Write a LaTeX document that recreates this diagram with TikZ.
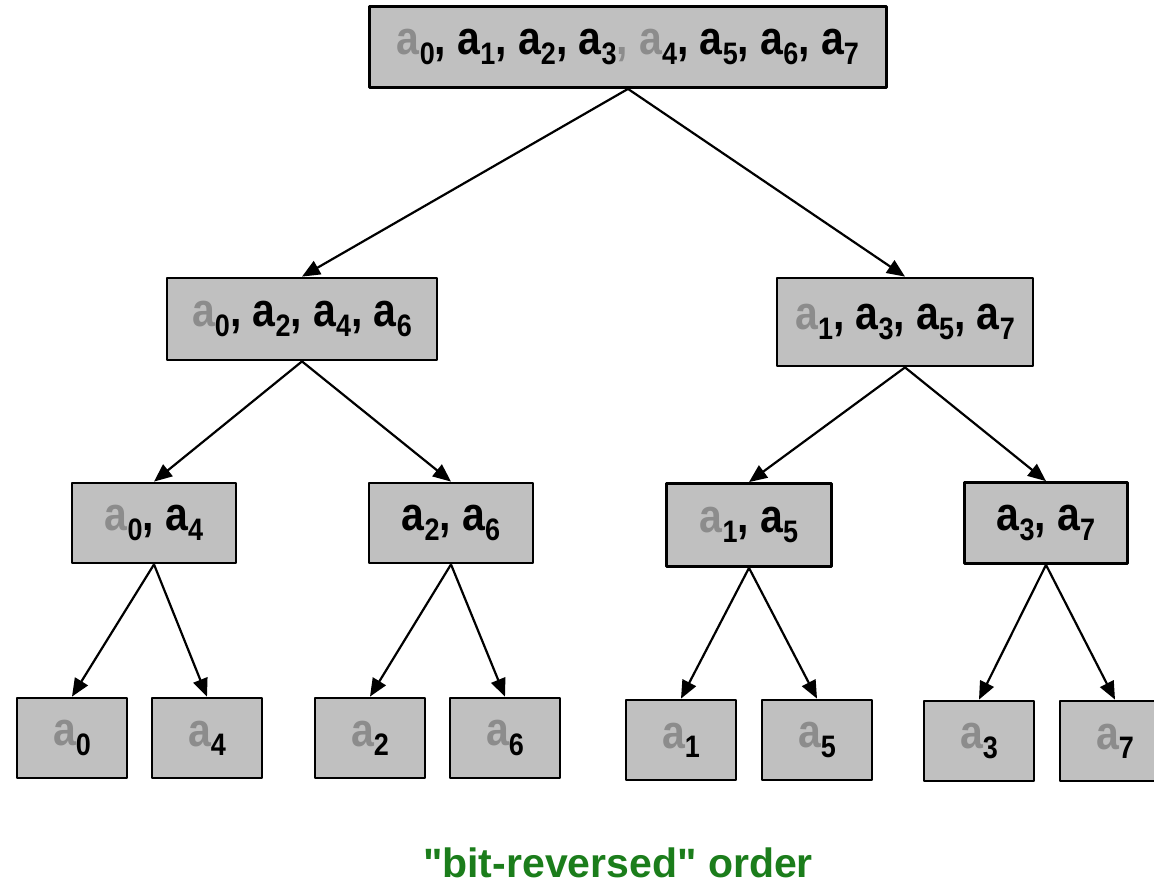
\documentclass[tikz,border=0pt]{standalone}
\usepackage{fontspec}
\setmainfont{Liberation Sans}
\usetikzlibrary{arrows.meta}
\definecolor{boxgray}{HTML}{C0C0C0}
\definecolor{agray}{HTML}{8C8C8C}
\definecolor{ordgreen}{HTML}{1B7D1B}
\newcommand{\ga}{\textcolor{agray}{a}}
\newcommand{\idx}[1]{\raisebox{-8pt}{\fontsize{27}{27}\selectfont #1}}
\newcommand{\vtxt}[1]{\scalebox{1}[1.15]{#1}}
\begin{document}
\begin{tikzpicture}[x=1pt, y=-1pt, >={Triangle[length=18pt,width=15pt]}, line join=round,
		font=\fontsize{41}{48}\selectfont\bfseries,
		blk/.style={draw, line width=2.8pt, fill=boxgray, inner sep=0pt},
		leaf/.style={blk, minimum width=110, minimum height=80},
		edge/.style={->, line width=2.2pt}]
	\clip (0,0) rectangle (1154,886);
	% level 0
	\node[blk, minimum width=517, minimum height=81] (all) at (628,47)
		{\vtxt{\ga\idx{0}, a\idx{1}, a\idx{2}, a\idx{3}\textcolor{agray}{,} \ga\idx{4}, a\idx{5}, a\idx{6}, a\idx{7}}};
	% level 1
	\node[blk, minimum width=270, minimum height=82] (evn) at (302,319)
		{\vtxt{\ga\idx{0}, a\idx{2}, a\idx{4}, a\idx{6}}};
	\node[blk, minimum width=256, minimum height=88] (odd) at (905,322)
		{\vtxt{\ga\idx{1}, a\idx{3}, a\idx{5}, a\idx{7}}};
	% level 2
	\node[blk, minimum width=164, minimum height=80] (e0) at (154,523) {\vtxt{\ga\idx{0}, a\idx{4}}};
	\node[blk, minimum width=164, minimum height=80] (e2) at (451,523) {\vtxt{a\idx{2}, a\idx{6}}};
	\node[blk, minimum width=165, minimum height=83] (o1) at (749,525) {\vtxt{\ga\idx{1}, a\idx{5}}};
	\node[blk, minimum width=163, minimum height=81] (o3) at (1046,523) {\vtxt{a\idx{3}, a\idx{7}}};
	% leaves
	\node[leaf] (l0) at (72,738) {\vtxt{\ga\idx{0}}};
	\node[leaf] (l4) at (207,738) {\vtxt{\ga\idx{4}}};
	\node[leaf] (l2) at (370,738) {\vtxt{\ga\idx{2}}};
	\node[leaf] (l6) at (505,738) {\vtxt{\ga\idx{6}}};
	\node[leaf] (l1) at (681,740) {\vtxt{\ga\idx{1}}};
	\node[leaf] (l5) at (817,740) {\vtxt{\ga\idx{5}}};
	\node[leaf] (l3) at (979,741) {\vtxt{\ga\idx{3}}};
	\node[leaf] (l7) at (1115,741) {\vtxt{\ga\idx{7}}};
	% arrows
	\draw[edge] (all.south) -- (evn.north);
	\draw[edge] (all.south) -- (odd.north);
	\draw[edge] (evn.south) -- (e0.north);
	\draw[edge] (evn.south) -- (e2.north);
	\draw[edge] (odd.south) -- (o1.north);
	\draw[edge] (odd.south) -- (o3.north);
	\draw[edge] (e0.south) -- (l0.north);
	\draw[edge] (e0.south) -- (l4.north);
	\draw[edge] (e2.south) -- (l2.north);
	\draw[edge] (e2.south) -- (l6.north);
	\draw[edge] (o1.south) -- (l1.north);
	\draw[edge] (o1.south) -- (l5.north);
	\draw[edge] (o3.south) -- (l3.north);
	\draw[edge] (o3.south) -- (l7.north);
	\node[text=ordgreen] (caption) at (618,863) {\textquotedbl bit-reversed\textquotedbl\ order};
\end{tikzpicture}
\end{document}
